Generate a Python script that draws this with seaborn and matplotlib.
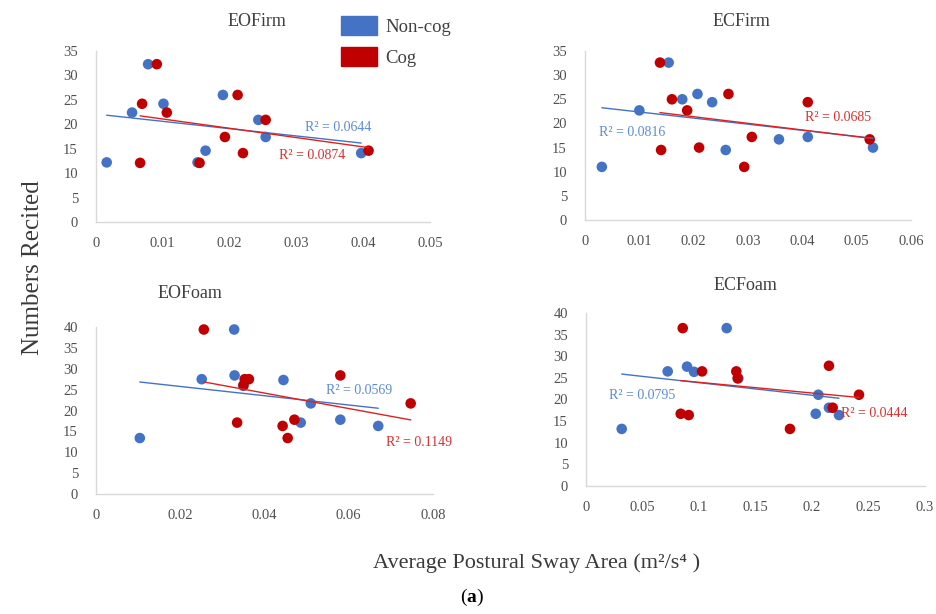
import matplotlib
matplotlib.use("Agg")
import matplotlib.pyplot as plt
from matplotlib.patches import Patch
from matplotlib.ticker import FuncFormatter
import numpy as np
import pandas as pd
import seaborn as sns

sns.set_theme(style="white")
plt.rcParams["font.family"] = ["Liberation Serif", "DejaVu Serif"]
plt.rcParams["mathtext.fontset"] = "custom"
plt.rcParams["mathtext.rm"] = "Liberation Serif"
plt.rcParams["mathtext.bf"] = "Liberation Serif:bold"

# ---- data ----
groups = ["Non-cog", "Cog"]
colors = {"Non-cog": "#4472C4", "Cog": "#C00000"}
label_colors = {"Non-cog": "#5B8BD6", "Cog": "#D93030"}

eofirm_noncog_x = [0.0016, 0.0054, 0.0078, 0.0101, 0.0152, 0.0164, 0.0190, 0.0243, 0.0254, 0.0397]
eofirm_noncog_y = [12.2, 22.4, 32.3, 24.2, 12.2, 14.6, 26.0, 20.9, 17.4, 14.1]
eofirm_cog_x = [0.0066, 0.0069, 0.0091, 0.0106, 0.0155, 0.0193, 0.0212, 0.0220, 0.0254, 0.0408]
eofirm_cog_y = [12.1, 24.2, 32.3, 22.4, 12.1, 17.4, 26.0, 14.1, 20.9, 14.6]

ecfirm_noncog_x = [0.0031, 0.0100, 0.0154, 0.0179, 0.0207, 0.0234, 0.0259, 0.0357, 0.0410, 0.0530]
ecfirm_noncog_y = [11.0, 22.7, 32.6, 25.0, 26.1, 24.4, 14.5, 16.7, 17.2, 15.0]
ecfirm_cog_x = [0.0138, 0.0140, 0.0160, 0.0188, 0.0210, 0.0264, 0.0293, 0.0307, 0.0410, 0.0524]
ecfirm_cog_y = [32.6, 14.5, 25.0, 22.7, 15.0, 26.1, 11.0, 17.2, 24.4, 16.7]

eofoam_noncog_x = [0.0104, 0.0251, 0.0328, 0.0329, 0.0350, 0.0445, 0.0486, 0.0510, 0.0580, 0.0670]
eofoam_noncog_y = [13.4, 27.5, 39.4, 28.4, 25.9, 27.3, 17.1, 21.7, 17.8, 16.3]
eofoam_cog_x = [0.0256, 0.0335, 0.0350, 0.0353, 0.0363, 0.0443, 0.0455, 0.0471, 0.0580, 0.0747]
eofoam_cog_y = [39.4, 17.1, 26.1, 27.5, 27.5, 16.3, 13.4, 17.8, 28.4, 21.7]

ecfoam_noncog_x = [0.0316, 0.0723, 0.0894, 0.0956, 0.1245, 0.1348, 0.2033, 0.2056, 0.2150, 0.2239]
ecfoam_noncog_y = [13.2, 26.5, 27.6, 26.4, 36.5, 24.9, 16.7, 21.1, 18.1, 16.4]
ecfoam_cog_x = [0.0838, 0.0856, 0.0909, 0.1027, 0.1330, 0.1342, 0.1805, 0.2150, 0.2183, 0.2416]
ecfoam_cog_y = [16.7, 36.5, 16.4, 26.5, 26.5, 24.9, 13.2, 27.8, 18.1, 21.1]

# R² annotations as printed on the chart
r2_text = {
    "EOFirm": ("R² = 0.0644", "R² = 0.0874"),
    "ECFirm": ("R² = 0.0816", "R² = 0.0685"),
    "EOFoam": ("R² = 0.0569", "R² = 0.1149"),
    "ECFoam": ("R² = 0.0795", "R² = 0.0444"),
}
r2_pos = {
    "EOFirm": ((0.0362, 19.3), (0.0323, 13.6)),
    "ECFirm": ((0.0087, 18.1), (0.0465, 21.2)),
    "EOFoam": ((0.0624, 24.8), (0.0767, 12.3)),
    "ECFoam": ((0.0498, 20.9), (0.2552, 16.8)),
}

panels = [
    ("EOFirm", eofirm_noncog_x, eofirm_noncog_y, eofirm_cog_x, eofirm_cog_y,
     np.arange(0, 0.051, 0.01), np.arange(0, 36, 5)),
    ("ECFirm", ecfirm_noncog_x, ecfirm_noncog_y, ecfirm_cog_x, ecfirm_cog_y,
     np.arange(0, 0.061, 0.01), np.arange(0, 36, 5)),
    ("EOFoam", eofoam_noncog_x, eofoam_noncog_y, eofoam_cog_x, eofoam_cog_y,
     np.arange(0, 0.081, 0.02), np.arange(0, 41, 5)),
    ("ECFoam", ecfoam_noncog_x, ecfoam_noncog_y, ecfoam_cog_x, ecfoam_cog_y,
     np.arange(0, 0.31, 0.05), np.arange(0, 41, 5)),
]

# axes rectangles in pixels: left, right, top, bottom
W, H = 937, 614
boxes = {
    "EOFirm": (96, 430, 51, 222),
    "ECFirm": (585, 911, 51, 220),
    "EOFoam": (96, 433, 327, 494),
    "ECFoam": (586, 925, 313, 486),
}
title_pos = {
    "EOFirm": (257, 22),
    "ECFirm": (741, 22),
    "EOFoam": (190, 294),
    "ECFoam": (745, 285),
}

fig = plt.figure(figsize=(W / 100, H / 100), dpi=100)

for name, nx, ny, cx, cy, xt, yt in panels:
    l, r, t, b = boxes[name]
    ax = fig.add_axes([l / W, 1 - b / H, (r - l) / W, (b - t) / H])
    df = pd.DataFrame({
        "x": nx + cx,
        "y": ny + cy,
        "Group": ["Non-cog"] * len(nx) + ["Cog"] * len(cx),
    })
    sns.scatterplot(data=df, x="x", y="y", hue="Group", palette=colors,
                    hue_order=groups, s=58, linewidth=0, legend=False, ax=ax,
                    zorder=2, clip_on=False)
    for g in groups:
        sub = df[df["Group"] == g]
        sns.regplot(data=sub, x="x", y="y", scatter=False, ci=None,
                    truncate=True, color=colors[g] if g == "Non-cog" else "#E02020",
                    line_kws={"lw": 1.0, "zorder": 3}, ax=ax)
    for g, txt, pos in zip(groups, r2_text[name], r2_pos[name]):
        ax.text(pos[0], pos[1], txt, color=label_colors[g], fontsize=10,
                ha="center", va="center", zorder=4)

    ax.set_xlim(xt[0], xt[-1])
    ax.set_ylim(yt[0], yt[-1])
    ax.set_xticks(xt)
    ax.set_yticks(yt)
    ax.xaxis.set_major_formatter(FuncFormatter(lambda v, p: f"{round(v, 3):g}"))
    ax.yaxis.set_major_formatter(FuncFormatter(lambda v, p: f"{v:g}"))
    ax.tick_params(axis="both", length=0, labelsize=10.5, colors="#505050")
    ax.tick_params(axis="x", pad=11)
    ax.tick_params(axis="y", pad=13)
    ax.set_xlabel("")
    ax.set_ylabel("")
    sns.despine(ax=ax)
    for side in ["left", "bottom"]:
        ax.spines[side].set_color("#D9D9D9")
        ax.spines[side].set_linewidth(1.0)
    ax.patch.set_alpha(0)

    tx, ty = title_pos[name]
    fig.text(tx / W, 1 - ty / H, name, fontsize=13, color="#404040",
             ha="center", va="center")

# shared legend
handles = [Patch(facecolor=colors[g], edgecolor=colors[g]) for g in groups]
fig.legend(handles, groups, loc="upper left",
           bbox_to_anchor=(341 / W, 1 - 16 / H), frameon=False,
           fontsize=13.5, handlelength=1.9, handleheight=1.15,
           handletextpad=0.45, labelspacing=0.62, borderpad=0,
           borderaxespad=0, labelcolor="#404040")

fig.text(33 / W, 1 - 268 / H, "Numbers Recited", rotation=90, fontsize=18,
         color="#3A3A3A", ha="center", va="center")
fig.text(537 / W, 1 - 563 / H, "Average Postural Sway Area (m²/s⁴ )",
         fontsize=16, color="#3A3A3A", ha="center", va="center")
fig.text(472 / W, 1 - 597 / H, r"($\mathbf{a}$)", fontsize=14,
         color="black", ha="center", va="center")

fig.savefig("out.png", dpi=100)
